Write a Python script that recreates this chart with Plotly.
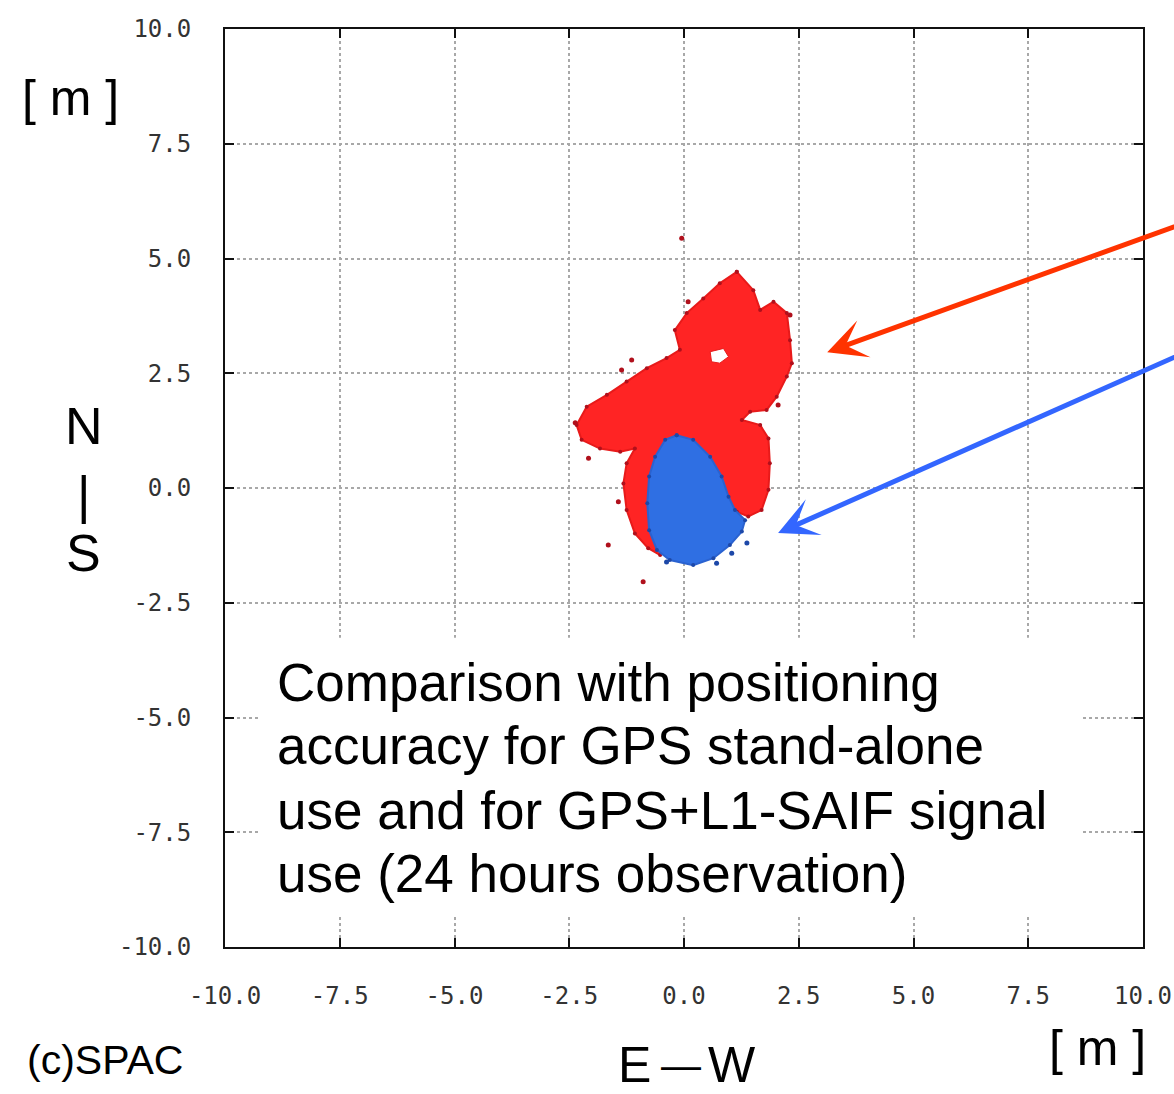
import plotly.graph_objects as go

# ---------------- data (metres) ----------------
tick_vals = [-10.0, -7.5, -5.0, -2.5, 0.0, 2.5, 5.0, 7.5, 10.0]
tick_text = ["-10.0", "-7.5", "-5.0", "-2.5", "0.0", "2.5", "5.0", "7.5", "10.0"]

# GPS stand-alone cloud outline (red)
gps_x = [1.15, 1.51, 1.66, 1.95, 2.24, 2.31, 2.35, 2.24, 2.02, 1.80, 1.44, 1.26, 1.66, 1.84,
         1.87, 1.84, 1.69, 1.40, 1.15, 0.20, -0.52, -0.78, -1.07, -1.25, -1.32, -1.25, -1.07,
         -1.39, -1.83, -2.23, -2.34, -2.12, -1.68, -1.25, -0.81, -0.38, -0.09, -0.20, 0.06,
         0.42, 0.78, 1.15]
gps_y = [4.71, 4.31, 3.88, 4.06, 3.81, 3.22, 2.72, 2.43, 1.99, 1.70, 1.66, 1.48, 1.37, 1.08,
         0.54, -0.04, -0.48, -0.62, -0.52, -0.92, -1.46, -1.31, -0.99, -0.48, 0.10, 0.54, 0.86,
         0.79, 0.86, 1.05, 1.37, 1.77, 2.03, 2.32, 2.61, 2.83, 3.01, 3.44, 3.81, 4.13, 4.46,
         4.71]
# gap inside the red cloud
gap_x = [0.57, 0.86, 0.97, 0.78, 0.60, 0.57]
gap_y = [2.97, 3.04, 2.86, 2.72, 2.75, 2.97]
# isolated GPS fixes
gps_out_x = [-0.05, -1.36, -2.08, -1.65, -0.89, 2.05, 2.31, -2.37, 0.09, -1.14, -1.43]
gps_out_y = [5.44, 2.57, 0.65, -1.24, -2.04, 1.81, 3.77, 1.42, 4.06, 2.79, -0.30]

# GPS + L1-SAIF cloud outline (blue)
saif_x = [-0.16, 0.20, 0.57, 0.82, 0.97, 1.11, 1.33, 1.26, 1.00, 0.64, 0.20, -0.31, -0.59,
          -0.76, -0.80, -0.76, -0.63, -0.41, -0.16]
saif_y = [1.15, 1.05, 0.68, 0.25, -0.19, -0.48, -0.70, -0.95, -1.24, -1.53, -1.68, -1.57,
          -1.35, -0.92, -0.33, 0.25, 0.68, 1.05, 1.15]
saif_out_x = [1.37, 1.04, 0.71, -0.38]
saif_out_y = [-1.20, -1.42, -1.64, -1.61]

caption_lines = ["Comparison with positioning",
                 "accuracy for GPS stand-alone",
                 "use and for GPS+L1-SAIF signal",
                 "use (24 hours observation)"]

# ---------------- figure ----------------
RED = "#ff2424"
BLUE = "#2f6fe3"

fig = go.Figure()
fig.add_trace(go.Scatter(x=gps_x, y=gps_y, mode="lines+markers", fill="toself",
                         fillcolor=RED, line=dict(color="#e81a1a", width=2),
                         marker=dict(color="#b0101c", size=4),
                         hoverinfo="skip", showlegend=False))
fig.add_trace(go.Scatter(x=gap_x, y=gap_y, mode="lines", fill="toself",
                         fillcolor="white", line=dict(color="#e81a1a", width=1),
                         hoverinfo="skip", showlegend=False))
fig.add_trace(go.Scatter(x=gps_out_x, y=gps_out_y, mode="markers",
                         marker=dict(color="#b0101c", size=5),
                         hoverinfo="skip", showlegend=False))
fig.add_trace(go.Scatter(x=saif_x, y=saif_y, mode="lines+markers", fill="toself",
                         fillcolor=BLUE, line=dict(color="#2a62d0", width=2),
                         marker=dict(color="#1d48a8", size=4),
                         hoverinfo="skip", showlegend=False))
fig.add_trace(go.Scatter(x=saif_out_x, y=saif_out_y, mode="markers",
                         marker=dict(color="#1d48a8", size=5),
                         hoverinfo="skip", showlegend=False))

axis_common = dict(range=[-10, 10], tickvals=tick_vals, ticktext=tick_text,
                   showgrid=True, gridcolor="#a8a8a8", gridwidth=2, griddash="dot",
                   zeroline=False, showline=True, linecolor="#111", linewidth=2,
                   mirror="ticks", ticks="inside", ticklen=9, tickwidth=2, tickcolor="#111",
                   tickfont=dict(family="DejaVu Sans Mono", size=24, color="#333333"),
                   automargin=False, fixedrange=True)

fig.update_layout(
    width=1174, height=1094,
    margin=dict(l=225, r=31, t=29, b=147, autoexpand=False),
    paper_bgcolor="white", plot_bgcolor="white",
    xaxis=dict(axis_common, ticklabelstandoff=26),
    yaxis=dict(axis_common, ticklabelstandoff=27),
    showlegend=False,
)

# white caption panel inside the plot
fig.add_shape(type="rect", xref="paper", yref="paper",
              x0=0.036, x1=0.934, y0=0.035, y1=0.337,
              fillcolor="white", line=dict(width=0), layer="above")

FONT = "Liberation Sans, Arial, sans-serif"
cap_y = [0.2876, 0.219, 0.149, 0.0806]
for txt, yy in zip(caption_lines, cap_y):
    fig.add_annotation(text=txt, xref="paper", yref="paper", x=0.055, y=yy,
                       xanchor="left", yanchor="middle", showarrow=False,
                       font=dict(family=FONT, size=53, color="black"))

# axis unit labels
fig.add_annotation(text="[ m ]", xref="paper", yref="paper", x=-0.1688, y=0.9245,
                   xanchor="center", yanchor="middle", showarrow=False,
                   font=dict(family=FONT, size=50, color="black"))
for txt, yy in zip(["N", "|", "S"], [0.5675, 0.4924, 0.429]):
    fig.add_annotation(text=txt, xref="paper", yref="paper", x=-0.1536, y=yy,
                       xanchor="center", yanchor="middle", showarrow=False,
                       font=dict(family=FONT, size=52, color="black"))
# "E—W" built from three pieces so the dash sits at mid-height
for txt, xx, sz in [("E", 0.4466, 50), ("\u2014", 0.4962, 40), ("W", 0.5523, 50)]:
    fig.add_annotation(text=txt, xref="paper", yref="paper", x=xx, y=-0.1285,
                       xanchor="center", yanchor="middle", showarrow=False,
                       font=dict(family=FONT, size=sz, color="black"))
fig.add_annotation(text="[ m ]", xref="paper", yref="paper", x=0.950, y=-0.110,
                   xanchor="center", yanchor="middle", showarrow=False,
                   font=dict(family=FONT, size=50, color="black"))
fig.add_annotation(text="(c)SPAC", xref="paper", yref="paper", x=-0.1307, y=-0.123,
                   xanchor="center", yanchor="middle", showarrow=False,
                   font=dict(family=FONT, size=41, color="black"))

# pointer arrows (tails run off the right edge of the page)
fig.add_annotation(x=3.12, y=2.96, xref="x", yref="y", text="", showarrow=True,
                   ax=12.42, ay=6.32, axref="x", ayref="y",
                   arrowhead=3, arrowsize=1.3, arrowwidth=5, arrowcolor="#ff3300")
fig.add_annotation(x=2.05, y=-0.98, xref="x", yref="y", text="", showarrow=True,
                   ax=12.42, ay=3.62, axref="x", ayref="y",
                   arrowhead=3, arrowsize=1.3, arrowwidth=5, arrowcolor="#3366ff")

fig.write_html("out.html", config={"displayModeBar": False},
               post_script="document.body.style.margin='0';document.body.style.overflow='hidden';")
